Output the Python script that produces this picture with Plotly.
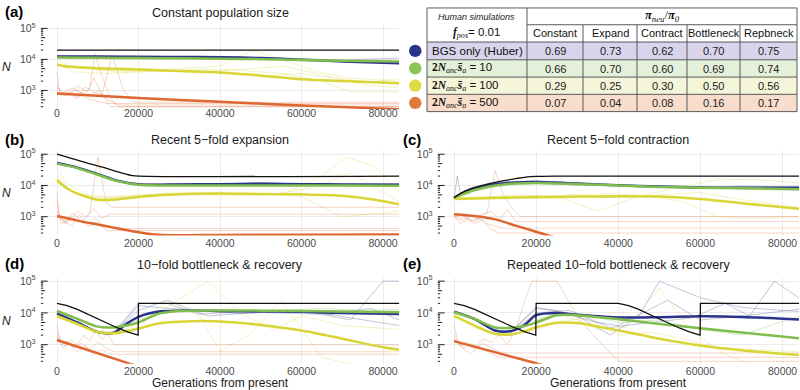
import numpy as np
import plotly.graph_objects as go

W, H = 800, 390
FONT = "Liberation Sans, Arial, sans-serif"
SERIF = "Liberation Serif, Times New Roman, serif"

# ---------------- axis ticks ----------------
GEN_TICKS = [0, 20000, 40000, 60000, 80000]
GEN_TICK_TEXT = ["0", "20000", "40000", "60000", "80000"]
N_TICKS = [1e3, 1e4, 1e5]
N_TICK_TEXT = ["10<sup>3</sup>", "10<sup>4</sup>", "10<sup>5</sup>"]
X_RANGE = [-4000, 84000]
Y_RANGE_LOG = [np.log10(250), 5.1]

PANEL_LABELS = ["(a)", "(b)", "(c)", "(d)", "(e)"]
PANEL_TITLES = ["Constant population size", "Recent 5\u2212fold expansion",
                "Recent 5\u2212fold contraction", "10\u2212fold bottleneck & recovery",
                "Repeated 10\u2212fold bottleneck & recovery"]

# ---------------- table data ----------------
TABLE_COLS = ["Constant", "Expand", "Contract", "Bottleneck", "Repbneck"]
ROW_BGS = [0.69, 0.73, 0.62, 0.70, 0.75]
ROW_S10 = [0.66, 0.70, 0.60, 0.69, 0.74]
ROW_S100 = [0.29, 0.25, 0.30, 0.50, 0.56]
ROW_S500 = [0.07, 0.04, 0.08, 0.16, 0.17]
ROW_NAMES = ["BGS only (Huber)", "10", "100", "500"]

# ---------------- panel (a): constant ----------------
A_BLACK_X = [0, 84000]
A_BLACK_N = [20000, 20000]
A_BG_X = [0, 10000, 20000, 30000, 40000, 50000, 60000, 70000, 84000]
A_BLUE_N = [12500, 12300, 12000, 12000, 11800, 11000, 9800, 8600, 7500]
A_GREEN_N = [11500, 11200, 11000, 10800, 10500, 10200, 9600, 9000, 8500]
A_YELLOW_X = [0, 2000, 10000, 20000, 30000, 40000, 50000, 60000, 70000, 84000]
A_YELLOW_N = [6800, 6000, 5200, 4700, 4200, 3800, 3000, 2300, 2000, 1700]
A_ORANGE_X = [0, 20000, 40000, 60000, 84000]
A_ORANGE_N = [800, 570, 430, 330, 250]
A_THIN_ORANGE = [
    ([0, 700, 2500, 4500, 6500, 8000, 9300, 11000, 13000, 15000, 84000], [4000, 800, 700, 1000, 800, 1200, 15000, 3000, 600, 300, 300]),
    ([0, 1000, 3000, 5000, 7000, 9000, 11000, 13500, 16500, 19000, 84000], [1500, 700, 900, 600, 1300, 900, 700, 14000, 900, 420, 420]),
    ([0, 1500, 3000, 4500, 6000, 8000, 10000, 12000, 84000], [900, 650, 800, 550, 700, 500, 450, 380, 380]),
    ([0, 2000, 4000, 6000, 8000, 10000, 12500, 15000, 84000], [700, 900, 1200, 800, 600, 1000, 500, 340, 340]),
    ([0, 1000, 2500, 5000, 7500, 9000, 11000, 13000, 84000], [1200, 1000, 700, 1400, 900, 2500, 800, 300, 300]),
]
A_THIN_YELLOW = [
    ([0, 3000, 10000, 20000, 30000, 40000, 48000, 56000, 64000, 72000, 84000], [10000, 6000, 4500, 4500, 5000, 6000, 20000, 9000, 4000, 2500, 2000]),
    ([0, 5000, 15000, 25000, 35000, 45000, 55000, 65000, 72000, 84000], [7000, 5500, 4000, 4200, 4800, 4500, 3500, 2000, 900, 900]),
    ([0, 4000, 12000, 22000, 32000, 42000, 52000, 60000, 68000, 76000, 84000], [8000, 4000, 3500, 4000, 4200, 3800, 3000, 3500, 2500, 1500, 1200]),
    ([0, 6000, 16000, 26000, 36000, 46000, 56000, 66000, 76000, 84000], [6000, 5000, 5500, 4500, 4000, 5000, 6000, 3000, 1800, 2400]),
]
A_THIN_BLUE = [
    ([0, 10000, 20000, 30000, 40000, 50000, 60000, 70000, 84000], [13000, 12500, 13500, 12000, 12500, 11500, 10500, 9500, 11000]),
]
A_THIN_GREEN = [
    ([0, 10000, 20000, 30000, 40000, 50000, 60000, 70000, 84000], [11000, 10500, 11500, 10000, 11000, 10000, 9000, 9500, 8000]),
]

# ---------------- panel (b): expansion ----------------
B_BLACK_X = [0, 2500, 5000, 7500, 10000, 12500, 15000, 17000, 18500, 20000, 84000]
B_BLACK_N = [100000, 81000, 65000, 52000, 42000, 34000, 27000, 23000, 20800, 20000, 20000]
B_BG_X = [0, 5000, 10000, 15000, 20000, 25000, 30000, 40000, 50000, 60000, 70000, 84000]
B_GREEN_N = [50000, 36000, 22000, 13500, 10500, 10000, 10000, 10000, 10000, 10000, 10000, 9800]
B_BLUE_N = [52000, 37000, 23000, 14000, 11000, 10500, 10800, 11000, 11300, 11000, 10800, 10500]
B_YELLOW_X = [0, 2500, 5000, 10000, 15000, 20000, 30000, 40000, 50000, 60000, 70000, 78000, 84000]
B_YELLOW_N = [15000, 8000, 5500, 3500, 3600, 4300, 5200, 5500, 5300, 5200, 4700, 3500, 2500]
B_ORANGE_X = [0, 5000, 10000, 15000, 20000, 25000, 30000, 40000, 60000, 84000]
B_ORANGE_N = [1050, 750, 560, 420, 320, 265, 255, 260, 265, 270]
B_THIN_ORANGE = [
    ([0, 500, 2000, 4000, 6000, 8000, 10000, 12000, 13500, 84000], [6000, 1100, 600, 900, 700, 1200, 80000, 3000, 2000, 2000]),
    ([0, 1000, 3000, 5000, 7000, 9000, 11000, 13000, 84000], [3000, 600, 800, 1500, 1000, 1800, 900, 1200, 1200]),
    ([0, 1500, 3500, 5500, 7500, 9500, 11500, 14000, 84000], [1500, 800, 500, 1100, 600, 900, 500, 420, 420]),
    ([0, 2000, 4000, 6000, 8000, 10000, 12000, 84000], [1000, 700, 1300, 700, 500, 700, 360, 360]),
]
B_THIN_YELLOW = [
    ([0, 3000, 8000, 15000, 25000, 35000, 45000, 55000, 65000, 71000, 78000, 84000], [30000, 10000, 4500, 4500, 5500, 6000, 5500, 5000, 20000, 80000, 40000, 6000]),
    ([0, 4000, 10000, 20000, 30000, 40000, 50000, 60000, 70000, 84000], [20000, 6000, 3800, 4200, 5000, 5200, 5500, 4500, 1000, 1500]),
    ([0, 5000, 12000, 22000, 32000, 42000, 52000, 62000, 72000, 84000], [12000, 5500, 4000, 5000, 5500, 4800, 5000, 8000, 25000, 3000]),
]
B_THIN_BLUE = [
    ([0, 5000, 10000, 15000, 20000, 30000, 40000, 50000, 60000, 70000, 84000], [52000, 37000, 23000, 14000, 11000, 11500, 11000, 12500, 11000, 11000, 11500]),
]
B_THIN_GREEN = []

# ---------------- panel (c): contraction ----------------
C_BLACK_X = [0, 1000, 2500, 5000, 7500, 10000, 12500, 15000, 17500, 20000, 25000, 84000]
C_BLACK_N = [4000, 5000, 6500, 8500, 10500, 12500, 14500, 16500, 18500, 19500, 20000, 20000]
C_BG_X = [0, 2500, 5000, 10000, 15000, 20000, 30000, 40000, 50000, 60000, 70000, 84000]
C_BLUE_N = [4000, 6000, 8000, 11000, 12500, 12800, 11500, 10200, 9200, 8600, 8500, 8500]
C_GREEN_N = [4000, 5500, 7200, 10000, 11500, 12000, 11000, 10000, 9000, 8500, 8200, 7600]
C_YELLOW_X = [0, 10000, 20000, 30000, 40000, 50000, 60000, 70000, 84000]
C_YELLOW_N = [3700, 4000, 4200, 4400, 4500, 4400, 3700, 2700, 1800]
C_ORANGE_X = [0, 5000, 10000, 15000, 20000, 25000, 30000]
C_ORANGE_N = [1200, 1050, 820, 520, 330, 210, 150]
C_THIN_ORANGE = [
    ([0, 1000, 2500, 4000, 6000, 8000, 10000, 12000, 14000, 16000, 84000], [1300, 1000, 700, 1100, 800, 1300, 30000, 5000, 2000, 1000, 1000]),
    ([0, 1500, 3000, 5000, 7000, 9000, 11000, 13000, 15000, 84000], [1100, 600, 900, 700, 1200, 1500, 800, 1700, 700, 700]),
    ([0, 2000, 4000, 6000, 8000, 10000, 12000, 84000], [900, 1200, 700, 900, 600, 500, 430, 430]),
    ([0, 1000, 3000, 5000, 7000, 9000, 11000, 84000], [1200, 800, 1000, 600, 800, 400, 300, 300]),
]
C_THIN_YELLOW = [
    ([0, 5000, 15000, 25000, 35000, 45000, 55000, 65000, 75000, 84000], [3500, 4000, 5000, 4500, 1500, 4500, 9000, 16000, 15000, 12000]),
    ([0, 8000, 18000, 28000, 38000, 48000, 56000, 64000, 72000, 84000], [4000, 4500, 4000, 5000, 5500, 4500, 3000, 1000, 900, 1000]),
    ([0, 10000, 20000, 30000, 40000, 50000, 60000, 70000, 78000, 84000], [3800, 4200, 4800, 4300, 4000, 5000, 6000, 3500, 2500, 2000]),
]
C_THIN_BLUE = [
    ([0, 800, 1600, 4000, 8000, 12000, 16000, 20000, 30000, 40000, 50000, 60000, 70000, 84000], [4000, 20000, 5000, 8500, 11500, 13000, 13500, 14000, 12000, 10000, 9000, 8000, 9500, 9000]),
]
C_THIN_GREEN = [
    ([0, 5000, 10000, 15000, 20000, 30000, 40000, 50000, 60000, 70000, 84000], [3500, 6500, 9000, 11000, 11500, 11000, 10500, 9500, 9000, 7500, 7000]),
]

# ---------------- panel (d): bottleneck ----------------
D_BLACK_X = [0, 2500, 5000, 7500, 10000, 12500, 15000, 17500, 19900, 20000, 84000]
D_BLACK_N = [20000, 17000, 13000, 9100, 6500, 4600, 3300, 2500, 2000, 20000, 20000]
D_BG_X = [0, 5000, 10000, 14000, 17000, 20000, 25000, 30000, 40000, 50000, 60000, 70000, 84000]
D_BLUE_N = [9500, 5000, 2500, 2400, 4500, 7500, 11000, 11800, 11500, 11200, 10800, 10000, 9200]
D_GREEN_N = [11500, 6500, 3700, 3500, 4000, 5000, 9500, 11500, 12000, 11800, 11500, 11000, 10500]
D_YELLOW_X = [0, 5000, 10000, 14000, 20000, 25000, 30000, 40000, 50000, 60000, 70000, 80000, 84000]
D_YELLOW_N = [8000, 4500, 2500, 2300, 3200, 4700, 5300, 5400, 4200, 2800, 1550, 830, 690]
D_ORANGE_X = [0, 18000, 25000]
D_ORANGE_N = [1400, 250, 130]
D_THIN_ORANGE = [
    ([0, 700, 2000, 3500, 5000, 6500, 8000, 9500, 11000, 12500, 14000, 84000], [4000, 1500, 900, 1400, 1000, 2000, 1300, 3000, 1500, 2200, 1000, 1000]),
    ([0, 1000, 2500, 4000, 6000, 8000, 10000, 12000, 14000, 84000], [2500, 1000, 1300, 800, 1100, 700, 1200, 800, 600, 600]),
    ([0, 1500, 3000, 5000, 7000, 9000, 11000, 13000, 84000], [1800, 800, 1100, 600, 900, 500, 700, 500, 500]),
]
D_THIN_YELLOW = [
    ([0, 5000, 10000, 15000, 20000, 27000, 37000, 45000, 53000, 60000, 70000, 84000], [8000, 4000, 2500, 2200, 5000, 15000, 100000, 10000, 3000, 8000, 4000, 3000]),
    ([0, 5000, 10000, 15000, 20000, 27000, 35000, 40000, 47000, 55000, 65000, 75000, 84000], [7000, 4500, 2300, 2500, 3500, 25000, 8000, 600, 2000, 25000, 400, 200, 200]),
]
D_THIN_BLUE = [
    ([0, 5000, 10000, 14000, 20000, 27000, 35000, 45000, 55000, 65000, 72000, 80000, 84000], [10000, 5000, 2500, 2500, 20000, 20000, 9000, 11000, 10000, 9000, 6000, 100000, 100000]),
    ([0, 5000, 10000, 14000, 20000, 27000, 35000, 45000, 55000, 65000, 72000, 84000], [9000, 4500, 2400, 2300, 17000, 14000, 12000, 9500, 11000, 10000, 7000, 4000]),
    ([14000, 20000, 27000, 37000, 47000, 57000, 67000, 77000, 84000], [2500, 12000, 25000, 8000, 10000, 12000, 9000, 14000, 6000]),
]
D_THIN_GREEN = [
    ([0, 5000, 10000, 14000, 20000, 27000, 35000, 45000, 55000, 65000, 75000, 84000], [12000, 7000, 3800, 3600, 6000, 12000, 13000, 11000, 12000, 14000, 12000, 13000]),
]

# ---------------- panel (e): repeated bottleneck ----------------
E_BLACK_X = [0, 2500, 5000, 7500, 10000, 12500, 15000, 17500, 19900, 20000, 40000,
             42500, 45000, 47500, 50000, 52500, 55000, 57500, 59900, 60000, 84000]
E_BLACK_N = [20000, 17000, 13000, 9100, 6500, 4600, 3300, 2500, 2000, 20000, 20000,
             17000, 13000, 9100, 6500, 4600, 3300, 2500, 2000, 20000, 20000]
E_BG_X = [0, 5000, 10000, 14000, 17000, 20000, 25000, 30000, 40000, 50000, 60000, 70000, 84000]
E_BLUE_N = [11000, 6500, 2800, 2700, 4000, 8500, 10000, 8800, 7200, 7300, 7800, 7500, 6200]
E_GREEN_N = [10500, 6500, 3500, 3400, 3800, 5000, 8500, 8500, 6300, 4500, 3300, 2400, 1600]
E_YELLOW_N = [8000, 4000, 2200, 2100, 2600, 3500, 4900, 4800, 2800, 1550, 950, 670, 470]
E_ORANGE_X = [0, 20000, 28000]
E_ORANGE_N = [1300, 260, 130]
E_THIN_ORANGE = [
    ([0, 1000, 2500, 4000, 5500, 7000, 9000, 11000, 13000, 15000, 17000, 19000, 25000, 31000, 40000, 84000],
     [4000, 1200, 800, 1100, 900, 1500, 1200, 2000, 1000, 3000, 20000, 100000, 100000, 5000, 300, 300]),
    ([0, 1500, 3000, 5000, 7000, 9000, 11000, 13000, 84000], [2000, 900, 1200, 700, 1100, 800, 600, 550, 550]),
    ([0, 2000, 4000, 6000, 8000, 10000, 12000, 84000], [1500, 800, 500, 900, 600, 450, 400, 400]),
]
E_THIN_YELLOW = [
    ([0, 5000, 10000, 15000, 20000, 25000, 30000, 35000, 42000, 50000, 58000, 66000, 74000, 84000], [9000, 4000, 2200, 2100, 4000, 9000, 6000, 3000, 3500, 60000, 2500, 500, 200, 200]),
    ([0, 5000, 10000, 15000, 20000, 25000, 32000, 40000, 48000, 56000, 64000, 72000, 84000], [8000, 3500, 2000, 2300, 3000, 5000, 7000, 2000, 2500, 1500, 800, 700, 600]),
]
E_THIN_BLUE = [
    ([0, 5000, 10000, 14000, 20000, 25000, 30000, 38000, 45000, 50000, 60000, 70000, 80000, 84000], [11000, 6000, 2600, 2500, 14000, 12000, 8000, 2000, 8000, 100000, 30000, 15000, 12000, 11000]),
    ([0, 5000, 10000, 14000, 20000, 25000, 35000, 40000, 52000, 60000, 70000, 84000], [10000, 6500, 2800, 2700, 15000, 11000, 5000, 4000, 25000, 6000, 8000, 13000]),
    ([15000, 20000, 28000, 38000, 48000, 58000, 66000, 72000, 78000, 84000], [3000, 10000, 12000, 3500, 5000, 7000, 20000, 8000, 100000, 30000]),
]
E_THIN_GREEN = [
    ([0, 5000, 10000, 14000, 20000, 25000, 32000, 40000, 50000, 60000, 70000, 84000], [11000, 6000, 3500, 3400, 6000, 10000, 9000, 5000, 6000, 3000, 2000, 8000]),
]

# ---------------- styling ----------------
COL_BLUE = "#2A3489"
COL_GREEN = "#80BD4E"
COL_YELLOW = "#D8D536"
COL_ORANGE = "#DE6630"
THIN_BLUE = "rgba(60,70,130,0.35)"
THIN_GREEN = "rgba(128,189,78,0.35)"
THIN_YELLOW = "rgba(216,213,54,0.35)"
THIN_ORANGE = "rgba(222,102,48,0.30)"
DOT_COLORS = ["#2A3489", "#8CC456", "#DCDC44", "#DE7A3E"]
ROW_FILLS = ["#D7D4EB", "#E5F0DA", "#F5F5D9", "#F9DDCC"]

# panel geometry in pixels (left, right, top, bottom)
PANELS = {
    "a": (40.7, 399.3, 20.5, 105.5),
    "b": (40.7, 399.3, 148.0, 233.5),
    "c": (437.6, 799.0, 148.0, 233.5),
    "d": (40.7, 399.3, 276.5, 363.5),
    "e": (437.6, 799.0, 276.5, 363.5),
}
XLABEL_STANDOFF = {"a": -4, "b": 0, "c": 0, "d": 0, "e": 0}
TITLE_Y = {"a": 8, "b": 137, "c": 137, "d": 263, "e": 263}
LABEL_X = {"a": 3, "b": 3, "c": 401, "d": 3, "e": 401}


def px(x):
    return x / W


def py(y):
    return 1 - y / H


PANEL_DATA = {
    "a": dict(black=(A_BLACK_X, A_BLACK_N), blue=(A_BG_X, A_BLUE_N), green=(A_BG_X, A_GREEN_N),
              yellow=(A_YELLOW_X, A_YELLOW_N), orange=(A_ORANGE_X, A_ORANGE_N),
              tblue=A_THIN_BLUE, tgreen=A_THIN_GREEN, tyellow=A_THIN_YELLOW, torange=A_THIN_ORANGE, black_shape="linear"),
    "b": dict(black=(B_BLACK_X, B_BLACK_N), blue=(B_BG_X, B_BLUE_N), green=(B_BG_X, B_GREEN_N),
              yellow=(B_YELLOW_X, B_YELLOW_N), orange=(B_ORANGE_X, B_ORANGE_N),
              tblue=B_THIN_BLUE, tgreen=B_THIN_GREEN, tyellow=B_THIN_YELLOW, torange=B_THIN_ORANGE, black_shape="spline"),
    "c": dict(black=(C_BLACK_X, C_BLACK_N), blue=(C_BG_X, C_BLUE_N), green=(C_BG_X, C_GREEN_N),
              yellow=(C_YELLOW_X, C_YELLOW_N), orange=(C_ORANGE_X, C_ORANGE_N),
              tblue=C_THIN_BLUE, tgreen=C_THIN_GREEN, tyellow=C_THIN_YELLOW, torange=C_THIN_ORANGE, black_shape="spline"),
    "d": dict(black=(D_BLACK_X, D_BLACK_N), blue=(D_BG_X, D_BLUE_N), green=(D_BG_X, D_GREEN_N),
              yellow=(D_YELLOW_X, D_YELLOW_N), orange=(D_ORANGE_X, D_ORANGE_N),
              tblue=D_THIN_BLUE, tgreen=D_THIN_GREEN, tyellow=D_THIN_YELLOW, torange=D_THIN_ORANGE, black_shape="linear"),
    "e": dict(black=(E_BLACK_X, E_BLACK_N), blue=(E_BG_X, E_BLUE_N), green=(E_BG_X, E_GREEN_N),
              yellow=(E_BG_X, E_YELLOW_N), orange=(E_ORANGE_X, E_ORANGE_N),
              tblue=E_THIN_BLUE, tgreen=E_THIN_GREEN, tyellow=E_THIN_YELLOW, torange=E_THIN_ORANGE, black_shape="linear"),
}

fig = go.Figure()
layout_axes = {}
annotations = []
shapes = []

for i, key in enumerate(["a", "b", "c", "d", "e"]):
    n = i + 1
    xa = "x" if n == 1 else f"x{n}"
    ya = "y" if n == 1 else f"y{n}"
    xname = "xaxis" if n == 1 else f"xaxis{n}"
    yname = "yaxis" if n == 1 else f"yaxis{n}"
    l, r, t, b = PANELS[key]
    layout_axes[xname] = dict(
        domain=[px(l), px(r)], anchor=ya, range=X_RANGE, tickvals=GEN_TICKS, ticktext=GEN_TICK_TEXT,
        showgrid=True, gridcolor="#EBEBEB", gridwidth=1, zeroline=False, showline=False, ticks="",
        ticklabelstandoff=XLABEL_STANDOFF[key],
        tickfont=dict(family=FONT, size=10.5, color="#4D4D4D"), fixedrange=True)
    layout_axes[yname] = dict(
        domain=[py(b), py(t)], anchor=xa, type="log", range=Y_RANGE_LOG, tickvals=N_TICKS,
        ticktext=N_TICK_TEXT, showgrid=True, gridcolor="#EBEBEB", gridwidth=1, zeroline=False,
        showline=False, ticks="", tickfont=dict(family=FONT, size=10.5, color="#4D4D4D"),
        ticklabelstandoff=4, fixedrange=True)

    d = PANEL_DATA[key]
    for lst, col in ((d["tblue"], THIN_BLUE), (d["tgreen"], THIN_GREEN),
                     (d["tyellow"], THIN_YELLOW), (d["torange"], THIN_ORANGE)):
        for xs, ns in lst:
            fig.add_trace(go.Scatter(x=xs, y=ns, mode="lines", line=dict(color=col, width=0.9),
                                     xaxis=xa, yaxis=ya, showlegend=False, hoverinfo="skip"))
    for k, col in (("blue", COL_BLUE), ("green", COL_GREEN), ("yellow", COL_YELLOW), ("orange", COL_ORANGE)):
        xs, ns = d[k]
        fig.add_trace(go.Scatter(x=xs, y=ns, mode="lines",
                                 line=dict(color=col, width=2.5, shape="spline", smoothing=0.8),
                                 xaxis=xa, yaxis=ya, showlegend=False, hoverinfo="skip"))
    xs, ns = d["black"]
    fig.add_trace(go.Scatter(x=xs, y=ns, mode="lines",
                             line=dict(color="#111111", width=1.3, shape=d["black_shape"]),
                             xaxis=xa, yaxis=ya, showlegend=False, hoverinfo="skip"))

    # log tick annotations along the left edge (drawn inside panel)
    units_per_px = (X_RANGE[1] - X_RANGE[0]) / (r - l)
    tx, ty = [], []
    for k in range(2, 6):
        for m in range(1, 10):
            v = m * 10 ** k
            if v < 250 or v > 10 ** 5.1:
                continue
            ln = 7 if m == 1 else (4.5 if m == 5 else 2.5)
            tx += [X_RANGE[0], X_RANGE[0] + ln * units_per_px, None]
            ty += [v, v, None]
    fig.add_trace(go.Scatter(x=tx, y=ty, mode="lines", line=dict(color="#222222", width=1),
                             xaxis=xa, yaxis=ya, showlegend=False, hoverinfo="skip"))

    annotations.append(dict(text=PANEL_TITLES[i], x=px((l + r) / 2), y=py(TITLE_Y[key]), xref="paper", yref="paper",
                            showarrow=False, xanchor="center", yanchor="middle",
                            font=dict(family=FONT, size=12.5, color="#1A1A1A")))
    annotations.append(dict(text="<b>" + PANEL_LABELS[i] + "</b>", x=px(LABEL_X[key]), y=py(TITLE_Y[key] - 1),
                            xref="paper", yref="paper", showarrow=False, xanchor="left", yanchor="middle",
                            font=dict(family=FONT, size=15, color="#000000")))
    if key in ("a", "b", "d"):
        annotations.append(dict(text="<i>N</i>", x=px(6), y=py((t + b) / 2), xref="paper", yref="paper",
                                showarrow=False, xanchor="center", yanchor="middle",
                                font=dict(family=FONT, size=12, color="#1A1A1A")))
    if key in ("d", "e"):
        annotations.append(dict(text="Generations from present", x=px((l + r) / 2), y=py(383), xref="paper",
                                yref="paper", showarrow=False, xanchor="center", yanchor="middle",
                                font=dict(family=FONT, size=12, color="#1A1A1A")))

# ---------------- table ----------------
TAB_X = [427, 527, 583, 637, 687, 740, 797]
TAB_Y = [3, 20, 37.5, 55.5, 73, 90.5, 108]
LINE_COL = "#5A5A5A"

for ri in range(4):
    shapes.append(dict(type="rect", xref="paper", yref="paper", x0=px(TAB_X[0]), x1=px(TAB_X[-1]),
                       y0=py(TAB_Y[ri + 3]), y1=py(TAB_Y[ri + 2]), fillcolor=ROW_FILLS[ri], line=dict(width=0),
                       layer="below"))
shapes.append(dict(type="rect", xref="paper", yref="paper", x0=px(TAB_X[0]), x1=px(TAB_X[-1]),
                   y0=py(TAB_Y[-1]), y1=py(TAB_Y[0]), line=dict(color=LINE_COL, width=1)))
shapes.append(dict(type="line", xref="paper", yref="paper", x0=px(TAB_X[1]), x1=px(TAB_X[-1]),
                   y0=py(TAB_Y[1]), y1=py(TAB_Y[1]), line=dict(color=LINE_COL, width=1)))
for yy in TAB_Y[2:-1]:
    shapes.append(dict(type="line", xref="paper", yref="paper", x0=px(TAB_X[0]), x1=px(TAB_X[-1]),
                       y0=py(yy), y1=py(yy), line=dict(color=LINE_COL, width=1)))
shapes.append(dict(type="line", xref="paper", yref="paper", x0=px(TAB_X[1]), x1=px(TAB_X[1]),
                   y0=py(TAB_Y[0]), y1=py(TAB_Y[-1]), line=dict(color=LINE_COL, width=1)))
for xx in TAB_X[2:-1]:
    shapes.append(dict(type="line", xref="paper", yref="paper", x0=px(xx), x1=px(xx),
                       y0=py(TAB_Y[1]), y1=py(TAB_Y[-1]), line=dict(color=LINE_COL, width=1)))

for ri in range(4):
    cy = (TAB_Y[ri + 2] + TAB_Y[ri + 3]) / 2
    shapes.append(dict(type="circle", xref="paper", yref="paper", x0=px(409), x1=px(421.5),
                       y0=py(cy + 6.2), y1=py(cy - 6.2), fillcolor=DOT_COLORS[ri], line=dict(width=0)))

annotations.append(dict(text="<i>Human simulations</i>", x=px((TAB_X[0] + TAB_X[1]) / 2), y=py(12),
                        xref="paper", yref="paper", showarrow=False, xanchor="center", yanchor="middle",
                        font=dict(family=FONT, size=9, color="#222222")))
annotations.append(dict(text=f'<span style="font-family:{SERIF}"><b><i>f</i></b><sub><i>pos</i></sub></span>= 0.01',
                        x=px((TAB_X[0] + TAB_X[1]) / 2), y=py(28), xref="paper", yref="paper", showarrow=False,
                        xanchor="center", yanchor="middle", font=dict(family=FONT, size=11.5, color="#111111")))
annotations.append(dict(text=f'<span style="font-family:{SERIF}"><b><i>\u03c0</i></b><sub><i>neu</i></sub>/<b><i>\u03c0</i></b><sub><i>0</i></sub></span>',
                        x=px((TAB_X[1] + TAB_X[-1]) / 2), y=py(11), xref="paper", yref="paper", showarrow=False,
                        xanchor="center", yanchor="middle", font=dict(family=FONT, size=12.5, color="#111111")))
for ci, name in enumerate(TABLE_COLS):
    annotations.append(dict(text=name, x=px((TAB_X[ci + 1] + TAB_X[ci + 2]) / 2), y=py((TAB_Y[1] + TAB_Y[2]) / 2),
                            xref="paper", yref="paper", showarrow=False, xanchor="center", yanchor="middle",
                            font=dict(family=FONT, size=11, color="#111111")))

row_values = [ROW_BGS, ROW_S10, ROW_S100, ROW_S500]
for ri in range(4):
    cy = (TAB_Y[ri + 2] + TAB_Y[ri + 3]) / 2
    if ri == 0:
        label = ROW_NAMES[0]
    else:
        label = (f'<span style="font-family:{SERIF}"><b>2<i>N</i></b><sub><i>anc</i></sub>'
                 f'<b><i>s\u0304</i></b><sub><i>a</i></sub></span> = {ROW_NAMES[ri]}')
    annotations.append(dict(text=label, x=px(TAB_X[0] + 3), y=py(cy), xref="paper", yref="paper",
                            showarrow=False, xanchor="left", yanchor="middle",
                            font=dict(family=FONT, size=11.5, color="#111111")))
    for ci, v in enumerate(row_values[ri]):
        annotations.append(dict(text=f"{v:.2f}", x=px((TAB_X[ci + 1] + TAB_X[ci + 2]) / 2), y=py(cy + 0.5),
                                xref="paper", yref="paper", showarrow=False, xanchor="center", yanchor="middle",
                                font=dict(family=FONT, size=11, color="#222222")))

fig.update_layout(
    width=W, height=H, autosize=False,
    margin=dict(l=0, r=0, t=0, b=0, pad=0),
    paper_bgcolor="white", plot_bgcolor="white",
    showlegend=False,
    annotations=annotations,
    shapes=shapes,
    font=dict(family=FONT),
    **layout_axes,
)

fig.write_html("out.html", config={"displayModeBar": False, "staticPlot": True},
               post_script="document.body.style.margin='0';document.body.style.padding='0';"
                           "document.documentElement.style.margin='0';")
